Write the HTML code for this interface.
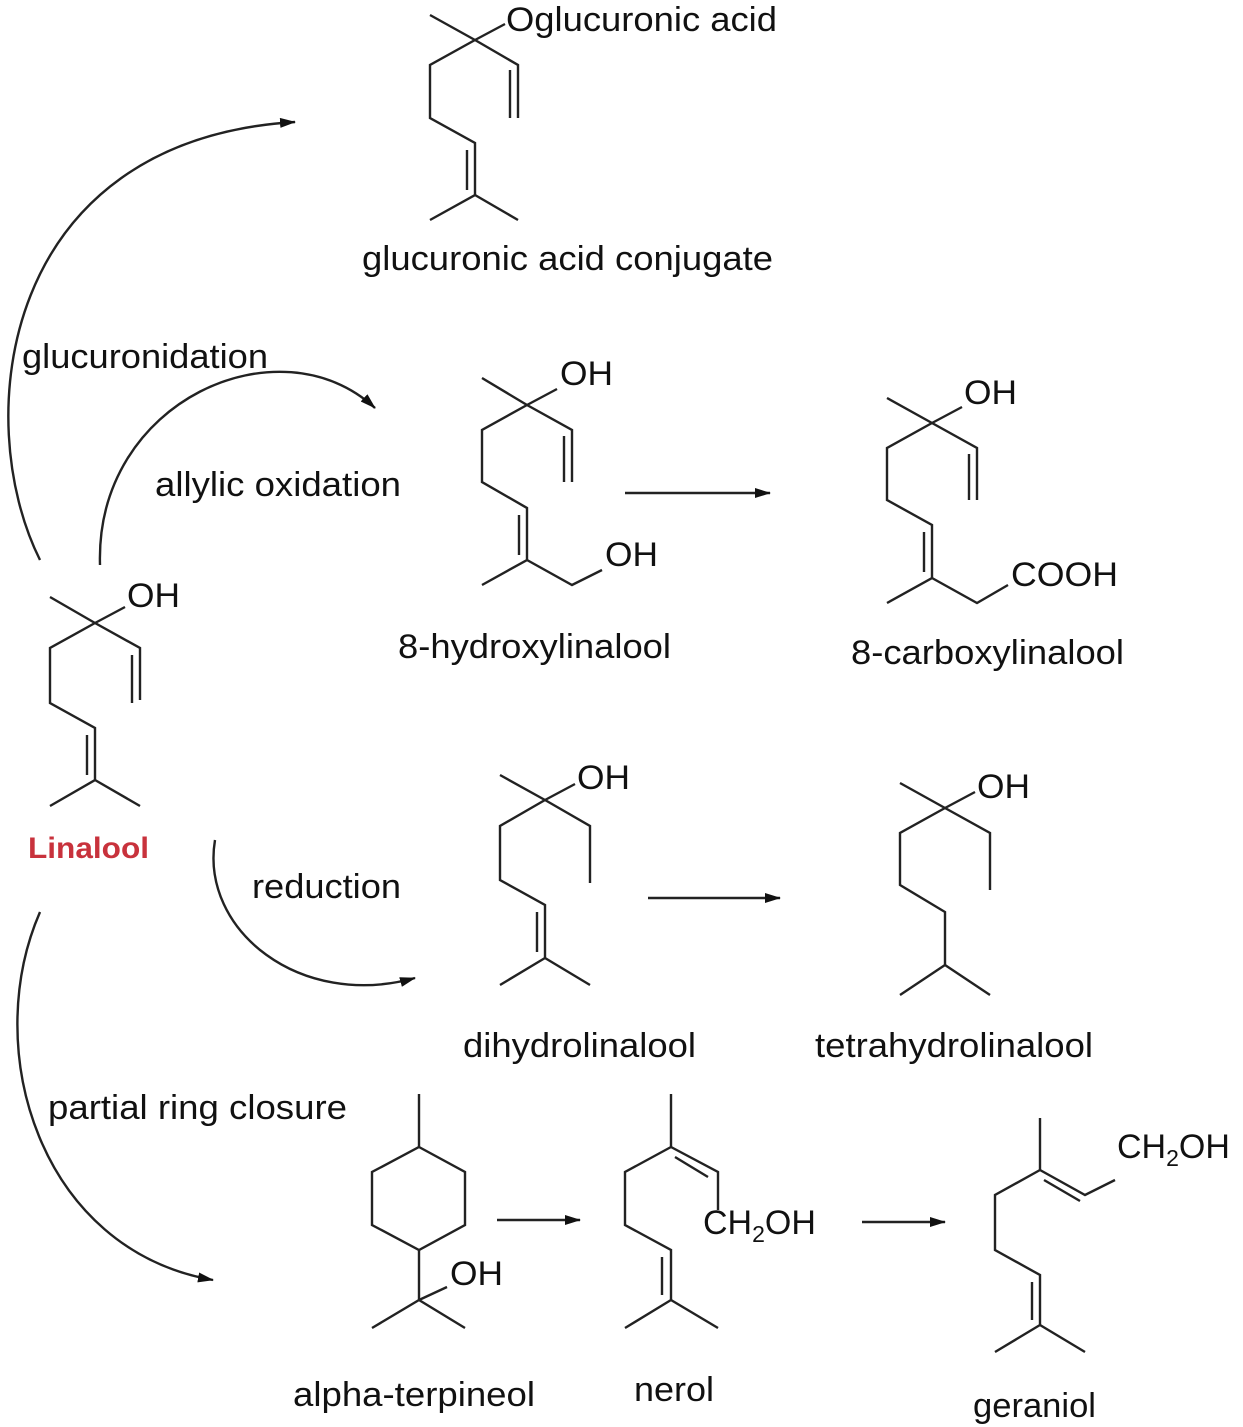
<!DOCTYPE html>
<html><head><meta charset="utf-8"><style>
html,body{margin:0;padding:0;background:#fff}
svg{display:block}
text{font-family:"Liberation Sans",Arial,sans-serif;font-size:34px;fill:#111}
</style></head><body>
<svg width="1243" height="1427" viewBox="0 0 1243 1427" xmlns="http://www.w3.org/2000/svg">
<defs><marker id="a" markerWidth="16" markerHeight="10" refX="15" refY="5" orient="auto" markerUnits="userSpaceOnUse"><path d="M0,0 L16,5 L0,10 Z" fill="#111"/></marker></defs>
<g stroke="#222" stroke-width="2.4" fill="none" stroke-linejoin="miter">
<polyline points="50,597 95,623 140,648 140,700"/><line x1="132" y1="655" x2="132" y2="703"/>
<line x1="95" y1="623" x2="125" y2="607"/>
<polyline points="95,623 50,648 50,703 95,728 95,780 50,806"/><line x1="95" y1="780" x2="140" y2="806"/><line x1="87" y1="735" x2="87" y2="775"/>
<polyline points="430,15 475,40 518,65 518,118"/><line x1="510" y1="70" x2="510" y2="118"/>
<line x1="475" y1="40" x2="505" y2="24"/>
<polyline points="475,40 430,65 430,118 475,143 475,195 430,220"/><line x1="475" y1="195" x2="518" y2="220"/><line x1="467" y1="150" x2="467" y2="190"/>
<polyline points="482,378 527,405 572,430 572,482"/><line x1="564" y1="436" x2="564" y2="482"/>
<line x1="527" y1="405" x2="557" y2="389"/>
<polyline points="527,405 482,430 482,482 527,508 527,560 482,585"/><line x1="519" y1="515" x2="519" y2="555"/>
<polyline points="527,560 572,585 602,570"/>
<polyline points="887,398 932,423 977,448 977,500"/><line x1="969" y1="454" x2="969" y2="500"/>
<line x1="932" y1="423" x2="962" y2="407"/>
<polyline points="932,423 887,448 887,500 932,525 932,578 887,603"/><line x1="924" y1="532" x2="924" y2="572"/>
<polyline points="932,578 977,603 1008,585"/>
<polyline points="500,775 545,800 590,826 590,883"/>
<line x1="545" y1="800" x2="575" y2="784"/>
<polyline points="545,800 500,826 500,880 545,905 545,958 500,985"/><line x1="545" y1="958" x2="590" y2="985"/><line x1="537" y1="912" x2="537" y2="952"/>
<polyline points="900,783 945,808 990,833 990,890"/>
<line x1="945" y1="808" x2="975" y2="792"/>
<polyline points="945,808 900,833 900,885 945,912 945,965 900,995"/><line x1="945" y1="965" x2="990" y2="995"/>
<line x1="419" y1="1094" x2="419" y2="1147"/>
<polygon points="419,1147 465,1172 465,1225 419,1250 372,1225 372,1172"/>
<line x1="419" y1="1250" x2="419" y2="1300"/><line x1="419" y1="1300" x2="447" y2="1287"/>
<polyline points="372,1328 419,1300 465,1328"/>
<line x1="671" y1="1094" x2="671" y2="1147"/>
<polyline points="671,1147 625,1172 625,1225 671,1250 671,1300 625,1328"/><line x1="671" y1="1300" x2="718" y2="1328"/><line x1="662" y1="1257" x2="662" y2="1295"/>
<polyline points="671,1147 718,1172 718,1210"/><line x1="675" y1="1157" x2="708" y2="1177"/>
<line x1="1040" y1="1118" x2="1040" y2="1170"/>
<polyline points="1040,1170 995,1195 995,1250 1040,1275 1040,1325 995,1352"/><line x1="1040" y1="1325" x2="1085" y2="1352"/><line x1="1032" y1="1282" x2="1032" y2="1320"/>
<polyline points="1040,1170 1085,1195 1115,1180"/><line x1="1044" y1="1180" x2="1080" y2="1201"/>
<line x1="625" y1="493" x2="770" y2="493" marker-end="url(#a)"/>
<line x1="648" y1="898" x2="780" y2="898" marker-end="url(#a)"/>
<line x1="497" y1="1220" x2="580" y2="1220" marker-end="url(#a)"/>
<line x1="862" y1="1222" x2="945" y2="1222" marker-end="url(#a)"/>
<path d="M40,560 C-30,420 0,140 295,122" marker-end="url(#a)"/>
<path d="M100,565 C95,400 280,320 375,408" marker-end="url(#a)"/>
<path d="M215,840 C200,930 300,1010 415,978" marker-end="url(#a)"/>
<path d="M40,912 C-20,1050 40,1250 213,1280" marker-end="url(#a)"/>
</g>
<g lengthAdjust="spacingAndGlyphs">
<text x="127" y="607" textLength="53" lengthAdjust="spacingAndGlyphs">OH</text>
<text x="28" y="858" textLength="121" lengthAdjust="spacingAndGlyphs" style="fill:#c8323c;font-weight:bold;font-size:30px">Linalool</text>
<text x="506" y="31" textLength="271" lengthAdjust="spacingAndGlyphs">Oglucuronic acid</text>
<text x="362" y="270" textLength="411" lengthAdjust="spacingAndGlyphs">glucuronic acid conjugate</text>
<text x="560" y="385" textLength="53" lengthAdjust="spacingAndGlyphs">OH</text>
<text x="605" y="566" textLength="53" lengthAdjust="spacingAndGlyphs">OH</text>
<text x="398" y="658" textLength="273" lengthAdjust="spacingAndGlyphs">8-hydroxylinalool</text>
<text x="964" y="404" textLength="53" lengthAdjust="spacingAndGlyphs">OH</text>
<text x="1011" y="586" textLength="107" lengthAdjust="spacingAndGlyphs">COOH</text>
<text x="851" y="664" textLength="273" lengthAdjust="spacingAndGlyphs">8-carboxylinalool</text>
<text x="577" y="789" textLength="53" lengthAdjust="spacingAndGlyphs">OH</text>
<text x="977" y="798" textLength="53" lengthAdjust="spacingAndGlyphs">OH</text>
<text x="463" y="1057" textLength="233" lengthAdjust="spacingAndGlyphs">dihydrolinalool</text>
<text x="815" y="1057" textLength="278" lengthAdjust="spacingAndGlyphs">tetrahydrolinalool</text>
<text x="450" y="1285" textLength="53" lengthAdjust="spacingAndGlyphs">OH</text>
<text x="703" y="1234">CH<tspan dy="8" style="font-size:23px">2</tspan><tspan dy="-8">OH</tspan></text>
<text x="1117" y="1158">CH<tspan dy="8" style="font-size:23px">2</tspan><tspan dy="-8">OH</tspan></text>
<text x="293" y="1406" textLength="242" lengthAdjust="spacingAndGlyphs">alpha-terpineol</text>
<text x="634" y="1401" textLength="80" lengthAdjust="spacingAndGlyphs">nerol</text>
<text x="973" y="1417" textLength="123" lengthAdjust="spacingAndGlyphs">geraniol</text>
<text x="22" y="368" textLength="246" lengthAdjust="spacingAndGlyphs">glucuronidation</text>
<text x="155" y="496" textLength="246" lengthAdjust="spacingAndGlyphs">allylic oxidation</text>
<text x="252" y="898" textLength="149" lengthAdjust="spacingAndGlyphs">reduction</text>
<text x="48" y="1119" textLength="299" lengthAdjust="spacingAndGlyphs">partial ring closure</text>
</g>
</svg>
</body></html>
